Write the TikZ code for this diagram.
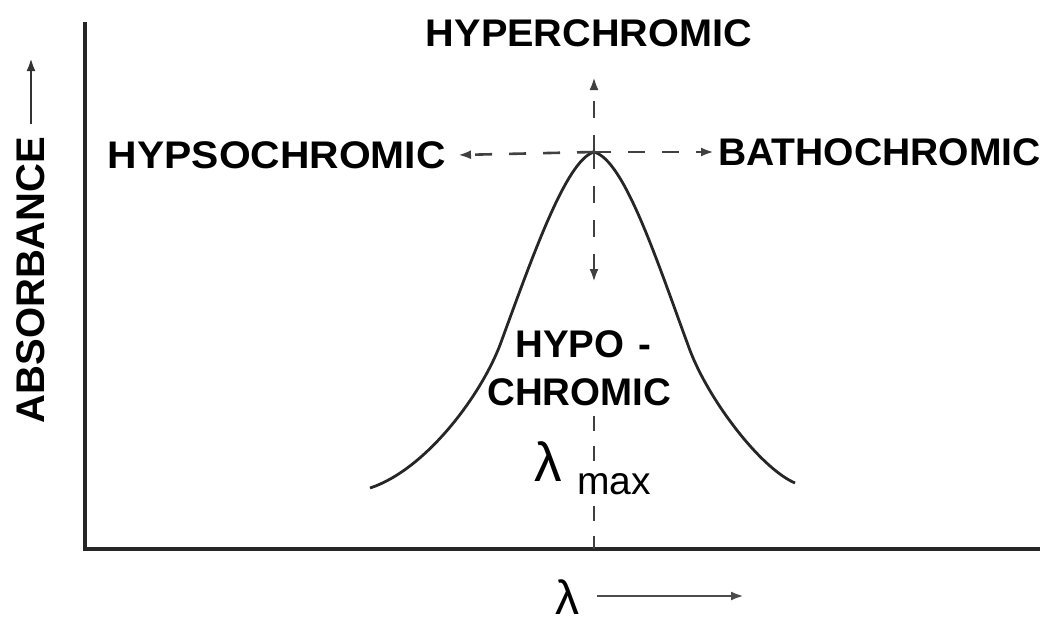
\documentclass[tikz,border=0pt]{standalone}
\usepackage{fontspec}
\setmainfont{Liberation Sans}
\usetikzlibrary{arrows.meta}
\begin{document}
\begin{tikzpicture}[x=1pt,y=-1pt,
  lbl/.style={inner sep=0pt,font=\fontsize{38.5}{40}\selectfont\bfseries},
  axisline/.style={line width=3.6pt,black!85},
  curveline/.style={line width=2.8pt,black!85},
  dashline/.style={line width=2.6pt,black!75,dash pattern=on 17pt off 17pt},
  tip/.style={-{Latex[length=13pt,width=9pt]}}]
\useasboundingbox (0,0) rectangle (1046,627);
% axes
\coordinate (ytop) at (85,22);
\coordinate (xend) at (1040,549);
\coordinate (xfoot) at (594,549);
\draw[axisline] (ytop) |- (xend);
% labels
\node[lbl,xscale=1.03] (hyper) at (589,33) {HYPERCHROMIC};
\node[lbl,anchor=east,xscale=1.06] (hypso) at (446,155) {HYPSOCHROMIC};
\node[lbl,anchor=west,xscale=1.015] (batho) at (718,152) {BATHOCHROMIC};
\node[lbl,anchor=west] (hypo) at (515,344) {HYPO\hspace{14pt}-};
\node[lbl,anchor=west] (chromic) at (487,392) {CHROMIC};
\node[inner sep=0pt,font=\fontsize{55}{56}\selectfont] (lam) at (548,462) {λ};
\node[inner sep=0pt,font=\fontsize{48}{50}\selectfont] (lamx) at (567,597) {λ};
\node[lbl,rotate=90,font=\fontsize{40}{42}\selectfont\bfseries] (absorb) at (31,280) {ABSORBANCE};
% axis arrows
\coordinate (yarr0) at (31,124);
\coordinate (yarr1) at (31,58);
\draw[line width=2.6pt,black!80,tip] (yarr0) -- (yarr1);
\coordinate (xarr0) at (597,596);
\coordinate (xarr1) at (744,596);
\draw[line width=2.6pt,black!70,tip] (xarr0) -- (xarr1);
% curve
\coordinate (peak) at (594,152);
\draw[curveline] (370,488) .. controls (425,470) and (480,397) .. (500,345)
  .. controls (532,258) and (566,160) .. (peak)
  .. controls (624,160) and (656,258) .. (688,345)
  .. controls (706,397) and (760,468) .. (795,483);
% dashed indicators
\coordinate (uptip) at (594,77);
\coordinate (downtip) at (594,282);
\coordinate (lowtop) at (594,416);
\draw[dashline,tip] (peak) -- ([xshift=12pt]hypso.east);
\draw[dashline,tip] (peak) -- ([xshift=-4pt]batho.west);
\draw[dashline,tip] (peak) -- (uptip);
\draw[dashline,tip] (peak) -- (downtip);
\draw[dashline,dash pattern=on 15pt off 15pt] (lowtop) -- (xfoot);
\node[lbl,anchor=west,fill=white,inner xsep=1pt,font=\fontsize{39}{40}\selectfont] (max) at (576,484) {max};
\end{tikzpicture}
\end{document}
